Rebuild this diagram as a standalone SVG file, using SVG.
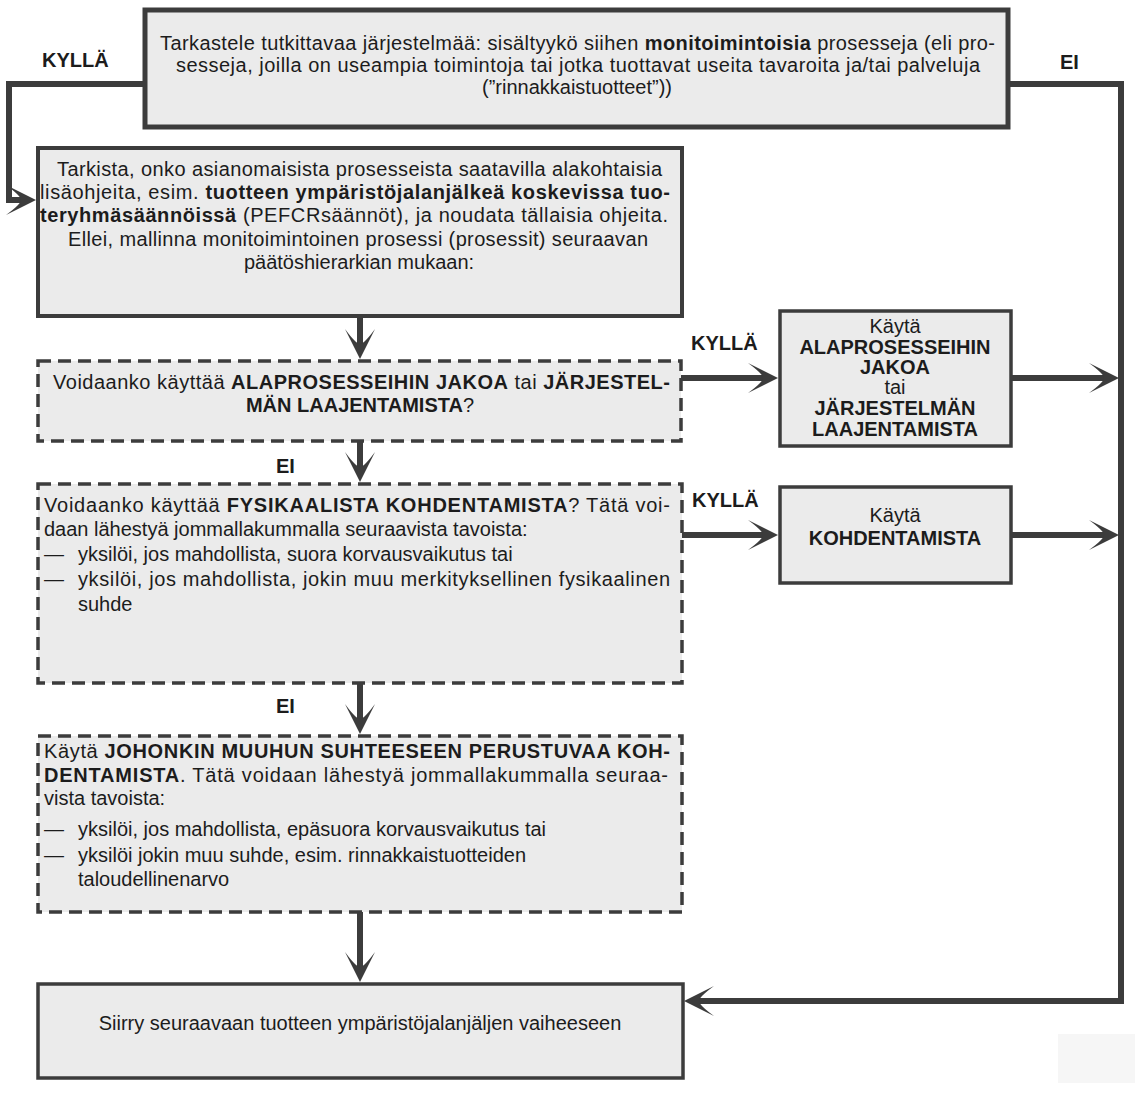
<svg xmlns="http://www.w3.org/2000/svg" width="1135" height="1094" viewBox="0 0 1135 1094">
<style>
  .box { fill: #ebebeb; stroke: #3c3c3c; }
  .dash { fill: #ebebeb; stroke: #3c3c3c; stroke-width: 3.5; stroke-dasharray: 13 7; }
  .t { font-family: "Liberation Sans", Arial, Helvetica, sans-serif; font-size: 20px; fill: #1c1c1c; }
  .b { font-weight: bold; }
  .lbl { font-family: "Liberation Sans", Arial, Helvetica, sans-serif; font-size: 20px; font-weight: bold; fill: #1c1c1c; }
  .conn { fill: none; stroke: #3c3c3c; stroke-width: 6; stroke-linejoin: miter; marker-end: url(#arr); }
</style>
<defs>
  <marker id="arr" markerUnits="userSpaceOnUse" markerWidth="30" markerHeight="32" viewBox="0 0 30 32" refX="22" refY="16" orient="auto">
    <path d="M30,16 L0,1 Q15,12 15,16 Q15,20 0,31 Z" fill="#3c3c3c"/>
  </marker>
</defs>
<rect width="1135" height="1094" fill="#ffffff"/>
<rect x="1058" y="1034" width="77" height="49" fill="#f6f6f6"/>

<g id="connectors">
  <path class="conn" d="M145,84 H9 V200 H28"/>
  <path class="conn" d="M1008,84 H1121 V1001 H692"/>
  <path class="conn" d="M360,318 V351"/>
  <path class="conn" d="M681,378 H770"/>
  <path class="conn" d="M1011,378 H1111"/>
  <path class="conn" d="M360,441 V474"/>
  <path class="conn" d="M682,535 H770"/>
  <path class="conn" d="M1011,535 H1111"/>
  <path class="conn" d="M360,683 V726"/>
  <path class="conn" d="M360,912 V974"/>
  <text class="lbl" x="42" y="67">KYLLÄ</text>
  <text class="lbl" x="1060" y="69">EI</text>
  <text class="lbl" x="691" y="350">KYLLÄ</text>
  <text class="lbl" x="692" y="507">KYLLÄ</text>
  <text class="lbl" x="276" y="473">EI</text>
  <text class="lbl" x="276" y="713">EI</text>
</g>

<g id="n1">
  <rect class="box" x="145" y="10" width="863" height="117" stroke-width="5"/>
  <text class="t" x="160" y="50" textLength="835" lengthAdjust="spacing">Tarkastele tutkittavaa järjestelmää: sisältyykö siihen <tspan class="b">monitoimintoisia</tspan> prosesseja (eli pro-</text>
  <text class="t" x="176" y="72" textLength="804" lengthAdjust="spacing">sesseja, joilla on useampia toimintoja tai jotka tuottavat useita tavaroita ja/tai palveluja</text>
  <text class="t" x="577" y="94" text-anchor="middle">(”rinnakkaistuotteet”))</text>
</g>

<g id="n2">
  <rect class="box" x="38" y="148" width="644" height="168" stroke-width="4"/>
  <text class="t" x="57" y="176" textLength="605" lengthAdjust="spacing">Tarkista, onko asianomaisista prosesseista saatavilla alakohtaisia</text>
  <text class="t" x="40" y="199" textLength="630" lengthAdjust="spacing">lisäohjeita, esim. <tspan class="b">tuotteen ympäristöjalanjälkeä koskevissa tuo-</tspan></text>
  <text class="t" x="40" y="222" textLength="628" lengthAdjust="spacing"><tspan class="b">teryhmäsäännöissä</tspan> (PEFCRsäännöt), ja noudata tällaisia ohjeita.</text>
  <text class="t" x="68" y="246" textLength="580" lengthAdjust="spacing">Ellei, mallinna monitoimintoinen prosessi (prosessit) seuraavan</text>
  <text class="t" x="359" y="269" text-anchor="middle">päätöshierarkian mukaan:</text>
</g>

<g id="n3">
  <rect class="dash" x="38" y="361" width="643" height="80"/>
  <text class="t" x="53" y="389" textLength="617" lengthAdjust="spacing">Voidaanko käyttää <tspan class="b">ALAPROSESSEIHIN JAKOA</tspan> tai <tspan class="b">JÄRJESTEL-</tspan></text>
  <text class="t" x="360" y="412" text-anchor="middle"><tspan class="b">MÄN LAAJENTAMISTA</tspan>?</text>
</g>

<g id="n4">
  <rect class="box" x="780" y="311" width="231" height="135" stroke-width="3.5"/>
  <text class="t" x="895" y="333" text-anchor="middle" font-size="17">Käytä</text>
  <text class="t b" x="895" y="354" text-anchor="middle" font-size="17">ALAPROSESSEIHIN</text>
  <text class="t b" x="895" y="374" text-anchor="middle" font-size="17">JAKOA</text>
  <text class="t" x="895" y="394" text-anchor="middle" font-size="15">tai</text>
  <text class="t b" x="895" y="415" text-anchor="middle" font-size="17">JÄRJESTELMÄN</text>
  <text class="t b" x="895" y="436" text-anchor="middle" font-size="17">LAAJENTAMISTA</text>
</g>

<g id="n5">
  <rect class="box" x="780" y="487" width="231" height="96" stroke-width="3.5"/>
  <text class="t" x="895" y="522" text-anchor="middle">Käytä</text>
  <text class="t b" x="895" y="545" text-anchor="middle">KOHDENTAMISTA</text>
</g>

<g id="n6">
  <rect class="dash" x="38" y="484" width="644" height="199"/>
  <text class="t" x="44" y="512" textLength="626" lengthAdjust="spacing">Voidaanko käyttää <tspan class="b">FYSIKAALISTA KOHDENTAMISTA</tspan>? Tätä voi-</text>
  <text class="t" x="44" y="536">daan lähestyä jommallakummalla seuraavista tavoista:</text>
  <text class="t" x="44" y="561">—</text>
  <text class="t" x="78" y="561">yksilöi, jos mahdollista, suora korvausvaikutus tai</text>
  <text class="t" x="44" y="586">—</text>
  <text class="t" x="78" y="586" textLength="592" lengthAdjust="spacing">yksilöi, jos mahdollista, jokin muu merkityksellinen fysikaalinen</text>
  <text class="t" x="78" y="611">suhde</text>
</g>

<g id="n7">
  <rect class="dash" x="38" y="736" width="644" height="176"/>
  <text class="t" x="44" y="758" textLength="626" lengthAdjust="spacing">Käytä <tspan class="b">JOHONKIN MUUHUN SUHTEESEEN PERUSTUVAA KOH-</tspan></text>
  <text class="t" x="44" y="782" textLength="624" lengthAdjust="spacing"><tspan class="b">DENTAMISTA</tspan>. Tätä voidaan lähestyä jommallakummalla seuraa-</text>
  <text class="t" x="44" y="805">vista tavoista:</text>
  <text class="t" x="44" y="836">—</text>
  <text class="t" x="78" y="836">yksilöi, jos mahdollista, epäsuora korvausvaikutus tai</text>
  <text class="t" x="44" y="862">—</text>
  <text class="t" x="78" y="862">yksilöi jokin muu suhde, esim. rinnakkaistuotteiden</text>
  <text class="t" x="78" y="886">taloudellinenarvo</text>
</g>

<g id="n8">
  <rect class="box" x="38" y="984" width="645" height="94" stroke-width="3.5"/>
  <text class="t" x="360" y="1030" text-anchor="middle">Siirry seuraavaan tuotteen ympäristöjalanjäljen vaiheeseen</text>
</g>
</svg>
